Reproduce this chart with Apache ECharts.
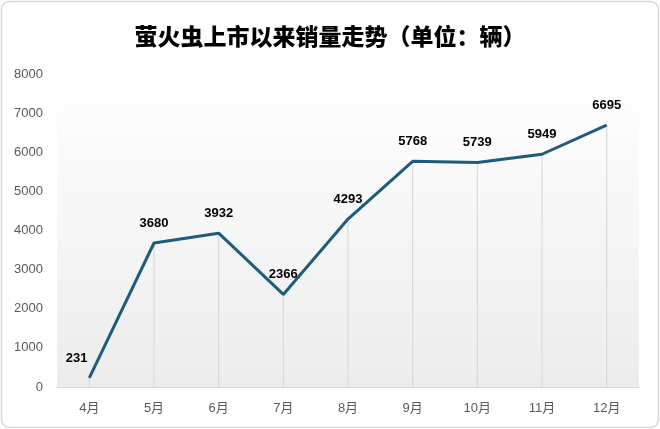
<!DOCTYPE html>
<html><head><meta charset="utf-8">
<script src="https://cdn.jsdelivr.net/npm/echarts@6/dist/echarts.min.js"></script>
<style>html,body{margin:0;padding:0;background:#fff}#c{width:660px;height:429px}</style>
</head><body><div id="c"></div>
<script>
const titleText = '萤火虫上市以来销量走势（单位：辆）';
const months = ['4月','5月','6月','7月','8月','9月','10月','11月','12月'];
const sales = [231, 3680, 3932, 2366, 4293, 5768, 5739, 5949, 6695];
const yTicks = [0, 1000, 2000, 3000, 4000, 5000, 6000, 7000, 8000];

const chart = echarts.init(document.getElementById('c'), null, {renderer:'canvas'});
const labelData = sales.map((v, i) => i === 0
  ? {value: v, label: {position: [-23, -26]}}
  : v);
chart.setOption({
  animation: false,
  backgroundColor: '#ffffff',
  title: {
    text: titleText, left: 'center', top: 20,
    textStyle: {fontFamily: '"Noto Sans CJK SC", sans-serif', fontWeight: 900, fontSize: 23, color: '#000'}
  },
  graphic: [{
    type: 'rect', silent: true, z: 100,
    shape: {x: 1.5, y: 1.5, width: 657, height: 426, r: 8},
    style: {fill: 'none', stroke: '#d9d9d9', lineWidth: 1.5}
  }],
  grid: {
    left: 57, right: 21, top: 74, bottom: 42, show: true, borderWidth: 0,
    backgroundColor: {
      type: 'linear', x: 0, y: 0, x2: 0, y2: 1,
      colorStops: [{offset: 0, color: '#ffffff'}, {offset: 1, color: '#ececec'}]
    }
  },
  xAxis: {
    type: 'category', data: months, boundaryGap: true,
    axisLine: {show: true, lineStyle: {color: '#d9d9d9', width: 1}},
    axisTick: {show: false},
    splitLine: {show: false},
    axisLabel: {color: '#595959', fontSize: 13, margin: 15,
      fontFamily: '"Liberation Sans", "Noto Sans CJK SC", sans-serif'}
  },
  yAxis: {
    type: 'value', min: yTicks[0], max: yTicks[yTicks.length-1], interval: 1000,
    axisLine: {show: false}, axisTick: {show: false},
    splitLine: {show: false},
    axisLabel: {color: '#595959', fontSize: 13, margin: 14,
      formatter: v => String(v),
      fontFamily: '"Liberation Sans", sans-serif'}
  },
  series: [
    {
      type: 'bar', data: sales, barWidth: 1, silent: true,
      itemStyle: {color: '#d6d6d6'}, z: 1
    },
    {
      type: 'line', data: labelData, symbol: 'circle', symbolSize: 1, showSymbol: true, z: 5,
      itemStyle: {color: 'rgba(0,0,0,0)'},
      lineStyle: {color: '#1f5c7c', width: 3},
      labelLayout: {hideOverlap: false},
      label: {show: true, position: 'top', distance: 13, color: '#000',
        fontWeight: 'bold', fontSize: 13, fontFamily: '"Liberation Sans", Arial, sans-serif'}
    }
  ]
});
</script></body></html>
